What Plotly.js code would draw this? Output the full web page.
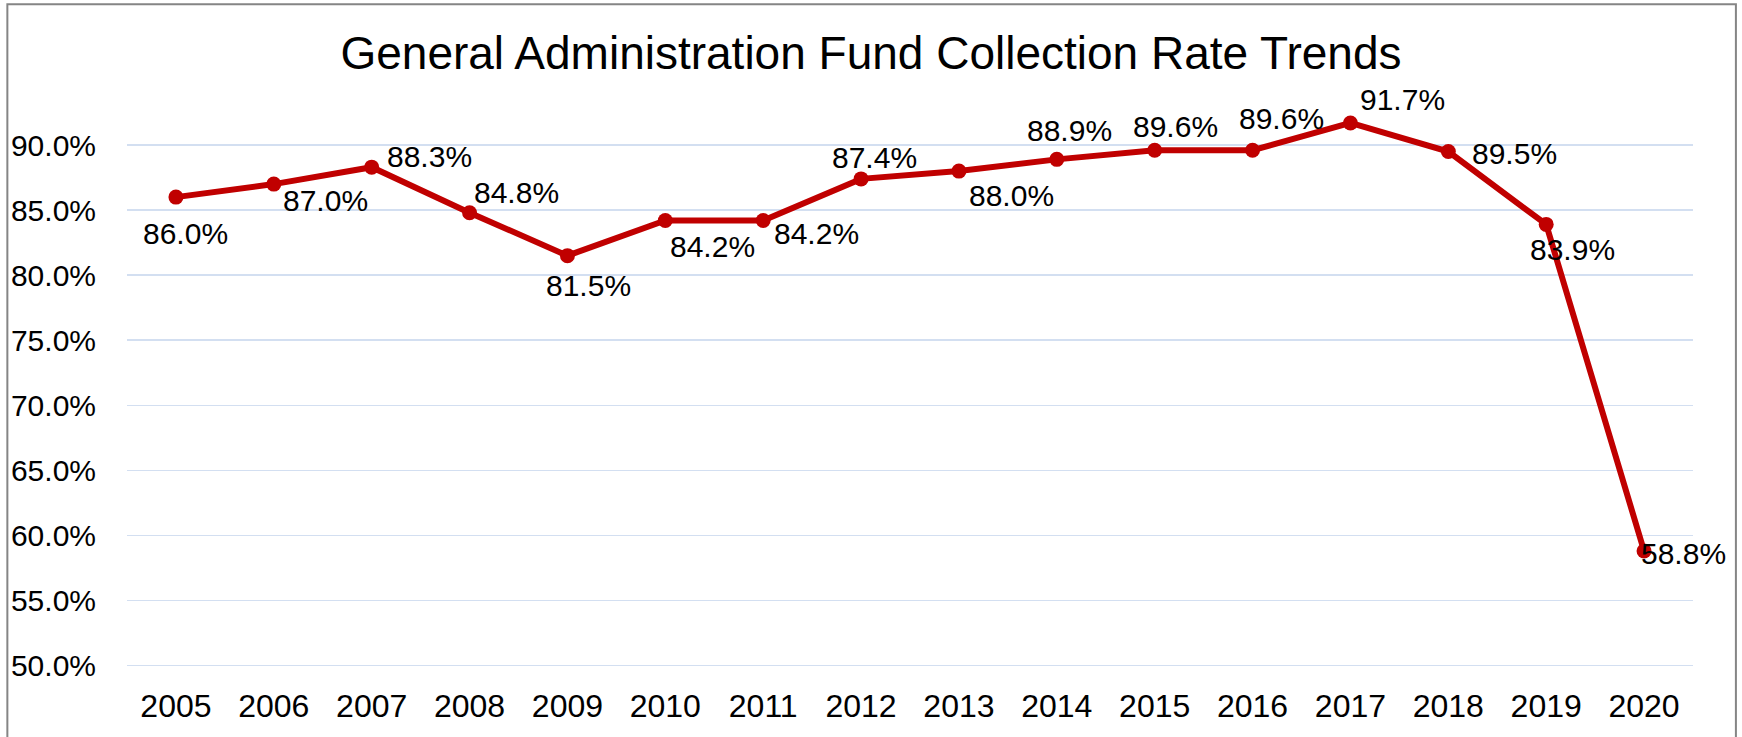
<!DOCTYPE html>
<html>
<head>
<meta charset="utf-8">
<script src="https://cdn.plot.ly/plotly-3.0.1.min.js"></script>
<style>
  html, body { margin: 0; padding: 0; background: #ffffff; }
  #chart { width: 1742px; height: 737px; }
</style>
</head>
<body>
<div id="chart"></div>
<script>
// ---- data ----
var years = ['2005','2006','2007','2008','2009','2010','2011','2012','2013','2014','2015','2016','2017','2018','2019','2020'];
var collectionRate = [86.0, 87.0, 88.3, 84.8, 81.5, 84.2, 84.2, 87.4, 88.0, 88.9, 89.6, 89.6, 91.7, 89.5, 83.9, 58.8];
var yTickValues = [50, 55, 60, 65, 70, 75, 80, 85, 90];
var yTickLabels = yTickValues.map(function (v) { return v.toFixed(1) + '%'; });
var chartTitle = 'General Administration Fund Collection Rate Trends';

// ---- label placement (pixel offsets from each point, as in the original) ----
var labelDx = [10, 52, 58, 47, 21, 47, 53, 13, 53, 13, 21, 29, 52, 66, 26, 39];
var labelDy = [36, 16, -11, -20, 30, 26, 13, -21, 24, -29, -24, -32, -23, 2, 25, 2];
var leaderLine = [true, false, false, false, false, false, false, false, false, false, false, false, false, false, false, false];

var FONT = '"Liberation Sans", Arial, Helvetica, sans-serif';
var RED = '#C00000';

var trace = {
  type: 'scatter',
  mode: 'lines+markers',
  x: years,
  y: collectionRate,
  line: { color: RED, width: 6 },
  marker: { color: RED, size: 15 },
  hoverinfo: 'x+y',
  cliponaxis: false
};

var annotations = [];
for (var i = 0; i < years.length; i++) {
  annotations.push({
    x: i,
    y: collectionRate[i],
    xref: 'x',
    yref: 'y',
    text: collectionRate[i].toFixed(1) + '%',
    showarrow: true,
    ax: labelDx[i],
    ay: labelDy[i],
    arrowhead: 0,
    arrowwidth: 1,
    standoff: 0,
    arrowcolor: leaderLine[i] ? '#8FAADC' : 'rgba(255,255,255,0)',
    font: { family: FONT, size: 30, color: '#000000' },
    xanchor: 'center',
    yanchor: 'middle'
  });
}

var layout = {
  width: 1742,
  height: 737,
  margin: { l: 127, r: 49, t: 80, b: 65, pad: 0 },
  paper_bgcolor: '#ffffff',
  plot_bgcolor: '#ffffff',
  showlegend: false,
  title: {
    text: chartTitle,
    font: { family: FONT, size: 46, color: '#000000' },
    xref: 'container',
    x: 0.5,
    xanchor: 'center',
    yref: 'container',
    y: 0.95,
    yanchor: 'top'
  },
  xaxis: {
    type: 'category',
    range: [-0.5, 15.5],
    showgrid: false,
    zeroline: false,
    showline: false,
    ticks: 'outside',
    ticklen: 6,
    tickcolor: 'rgba(255,255,255,0)',
    tickfont: { family: FONT, size: 32, color: '#000000' },
    fixedrange: true
  },
  yaxis: {
    range: [49.5, 95],
    tickmode: 'array',
    tickvals: yTickValues,
    ticktext: yTickLabels,
    showgrid: true,
    gridcolor: '#D3DFF1',
    gridwidth: 1.5,
    zeroline: false,
    showline: false,
    ticks: 'outside',
    ticklen: 24,
    tickcolor: 'rgba(255,255,255,0)',
    tickfont: { family: FONT, size: 30, color: '#000000' },
    fixedrange: true
  },
  annotations: annotations,
  shapes: [{
    type: 'rect',
    xref: 'paper', yref: 'paper',
    x0: -0.0764, x1: 1.0274,
    y0: -0.2, y1: 1.128,
    line: { color: '#858585', width: 2 },
    fillcolor: 'rgba(0,0,0,0)',
    layer: 'above'
  }]
};

Plotly.newPlot('chart', [trace], layout, { displayModeBar: false, staticPlot: true });
</script>
</body>
</html>
